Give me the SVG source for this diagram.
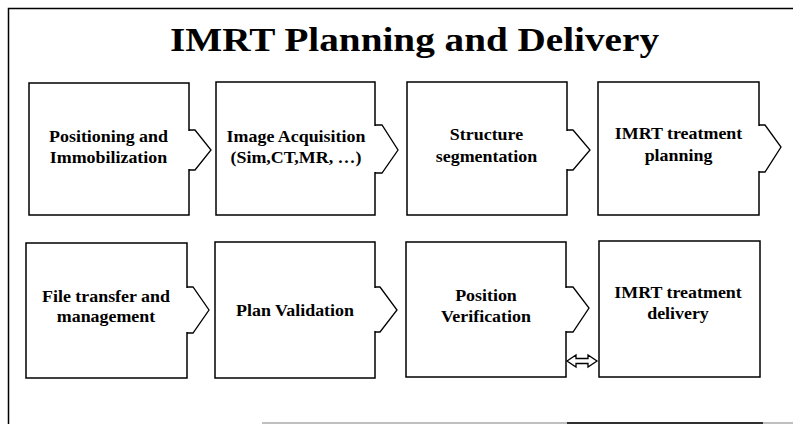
<svg xmlns="http://www.w3.org/2000/svg" width="793" height="424" viewBox="0 0 793 424">
<style>
.box{fill:#fff;stroke:#000;stroke-width:1.5}
.lbl{font-family:"Liberation Serif","Times New Roman",serif;font-weight:bold;font-size:16px;fill:#000;text-anchor:middle}
.title{font-family:"Liberation Serif","Times New Roman",serif;font-weight:bold;font-size:34px;fill:#000;text-anchor:middle}
.cover{fill:#fff;stroke:none}
.arr{fill:none;stroke:#000;stroke-width:1.3;stroke-linejoin:miter}
.frame{stroke:#000;stroke-width:1.5;fill:none}
</style>
<rect width="793" height="424" fill="#fff"/>
<g id="frame">
<path class="frame" d="M8.5,424 V8.5 H793"/>
<line x1="262" y1="423" x2="793" y2="423" stroke="#aaa" stroke-width="1.5"/>
<line x1="567" y1="423" x2="763" y2="423" stroke="#000" stroke-width="1.5"/>
</g>
<g id="title">
<text class="title" transform="translate(414.5,51) scale(1.153,1)" x="0" y="0">IMRT Planning and Delivery</text>
</g>
<g id="n1">
<rect class="box" x="29" y="83" width="160" height="132"/>
<g transform="translate(108.5,0) scale(1.12,1)"><text class="lbl" x="0" y="142">Positioning and</text><text class="lbl" x="0" y="163">Immobilization</text></g>
</g>
<g id="n2">
<rect class="box" x="216" y="82" width="159" height="133"/>
<g transform="translate(296,0) scale(1.12,1)"><text class="lbl" x="0" y="142">Image Acquisition</text><text class="lbl" x="0" y="163">(Sim,CT,MR, …)</text></g>
</g>
<g id="n3">
<rect class="box" x="407" y="82" width="160" height="133"/>
<g transform="translate(486.5,0) scale(1.12,1)"><text class="lbl" x="0" y="140">Structure</text><text class="lbl" x="0" y="162">segmentation</text></g>
</g>
<g id="n4">
<rect class="box" x="598" y="82" width="161" height="133"/>
<g transform="translate(678.5,0) scale(1.12,1)"><text class="lbl" x="0" y="139">IMRT treatment</text><text class="lbl" x="0" y="161">planning</text></g>
</g>
<g id="n5">
<rect class="box" x="26" y="243" width="161" height="135"/>
<g transform="translate(106,0) scale(1.12,1)"><text class="lbl" x="0" y="302">File transfer and</text><text class="lbl" x="0" y="322">management</text></g>
</g>
<g id="n6">
<rect class="box" x="215" y="242" width="160" height="136"/>
<g transform="translate(295,0) scale(1.12,1)"><text class="lbl" x="0" y="316">Plan Validation</text></g>
</g>
<g id="n7">
<rect class="box" x="406" y="242" width="160" height="135"/>
<g transform="translate(486,0) scale(1.12,1)"><text class="lbl" x="0" y="301">Position</text><text class="lbl" x="0" y="322">Verification</text></g>
</g>
<g id="n8">
<rect class="box" x="599" y="241" width="161" height="136"/>
<g transform="translate(678,0) scale(1.12,1)"><text class="lbl" x="0" y="298">IMRT treatment</text><text class="lbl" x="0" y="319">delivery</text></g>
</g>
<g id="connectors">
<path class="cover" d="M187.5,131 H195 L211,150 L195,169 H187.5 Z"/>
<path class="arr" d="M189,130 H195 L211,150 L195,170 H189"/>
<path class="cover" d="M373.5,126 H382 L398,150 L382,172 H373.5 Z"/>
<path class="arr" d="M375,125 H382 L398,150 L382,173 H375"/>
<path class="cover" d="M565.5,131 H573 L590,150 L573,169 H565.5 Z"/>
<path class="arr" d="M567,130 H573 L590,150 L573,170 H567"/>
<path class="cover" d="M757.5,126 H765 L781,147 L765,171 H757.5 Z"/>
<path class="arr" d="M759,125 H765 L781,147 L765,172 H759"/>
<path class="cover" d="M185.5,288 H193 L209,310 L193,332 H185.5 Z"/>
<path class="arr" d="M187,287 H193 L209,310 L193,333 H187"/>
<path class="cover" d="M373.5,288 H380 L397,310 L380,331 H373.5 Z"/>
<path class="arr" d="M375,287 H380 L397,310 L380,332 H375"/>
<path class="cover" d="M564.5,288 H573 L589,308 L573,331 H564.5 Z"/>
<path class="arr" d="M566,287 H573 L589,308 L573,332 H566"/>
<path d="M567,361 L576,355 V358.5 H588 V355 L597,361 L588,367 V363.5 H576 V367 Z" fill="#fff" stroke="#000" stroke-width="1.3"/>
</g>
</svg>
